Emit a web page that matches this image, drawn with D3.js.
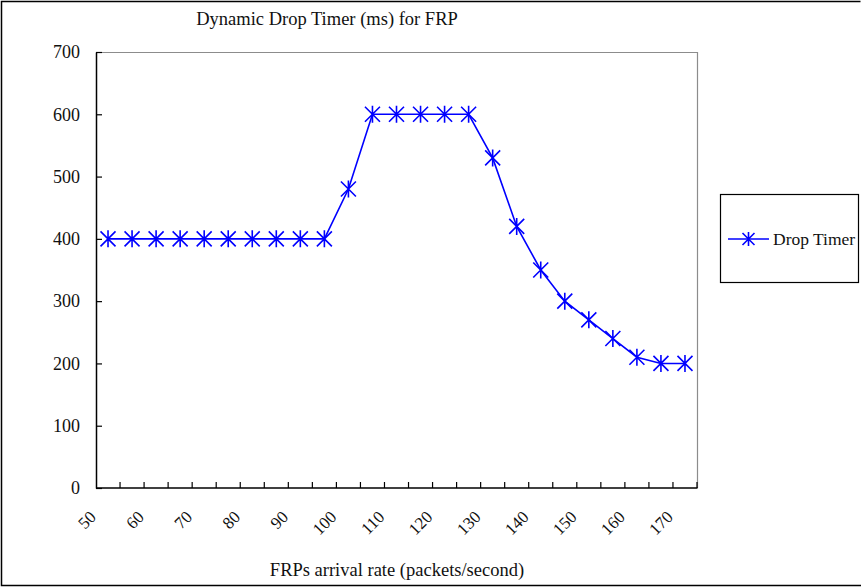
<!DOCTYPE html>
<html>
<head>
<meta charset="utf-8">
<script src="https://cdn.jsdelivr.net/npm/d3@7/dist/d3.min.js"></script>
<style>
  html, body { margin: 0; padding: 0; background: #fff; }
  svg { display: block; }
  text { font-family: "Liberation Serif", "Times New Roman", serif; fill: #111; }
</style>
</head>
<body>
<svg id="chart" width="861" height="587"></svg>
<script>
// FRP arrival rate (packets/second) on the category axis
const rates = [50, 55, 60, 65, 70, 75, 80, 85, 90, 95, 100, 105, 110, 115, 120,
               125, 130, 135, 140, 145, 150, 155, 160, 165, 170];
// Drop timer value (ms) at each rate
const dropTimer = [400, 400, 400, 400, 400, 400, 400, 400, 400, 400, 480, 600, 600, 600, 600,
                   600, 530, 420, 350, 300, 270, 240, 210, 200, 200];
// Labelled rates and value-axis ticks
const rateLabels = [50, 60, 70, 80, 90, 100, 110, 120, 130, 140, 150, 160, 170];
const timerTicks = [0, 100, 200, 300, 400, 500, 600, 700];

const titleText = "Dynamic Drop Timer (ms) for FRP";
const xTitleText = "FRPs arrival rate (packets/second)";
const seriesName = "Drop Timer";

const svg = d3.select("#chart");
const plot = { left: 96, right: 697, top: 52, bottom: 488 };
const blue = "#0000ff";

// Outer frame (left, top, bottom)
svg.append("path")
  .attr("d", "M860.5,1.5 H1.5 V585.5 H861")
  .attr("fill", "none").attr("stroke", "#000").attr("stroke-width", 1.5);

const x = d3.scaleBand().domain(rates).range([plot.left, plot.right]).padding(0);
const y = d3.scaleLinear().domain([0, 700]).range([plot.bottom, plot.top]);

// Plot area top and right edges
svg.append("path")
  .attr("d", `M${plot.left},${plot.top + 0.5} H${plot.right + 0.5} V${plot.bottom}`)
  .attr("fill", "none").attr("stroke", "#8c8c8c").attr("stroke-width", 1.2);

// Value axis with inward ticks
const yAxis = svg.append("g")
  .attr("transform", `translate(${plot.left},0)`)
  .call(d3.axisLeft(y).tickValues(timerTicks).tickSizeInner(-6).tickSizeOuter(0).tickPadding(16));
yAxis.select(".domain").attr("stroke", "#000").attr("stroke-width", 1.5);
yAxis.selectAll(".tick line").attr("stroke", "#000").attr("stroke-width", 1.2);
yAxis.selectAll(".tick text")
  .attr("font-family", "Liberation Serif").attr("font-size", 18).attr("fill", "#111");

// Category axis: baseline, ticks on the category boundaries
const xg = svg.append("g");
xg.append("line")
  .attr("x1", plot.left).attr("x2", plot.right + 0.5)
  .attr("y1", plot.bottom).attr("y2", plot.bottom)
  .attr("stroke", "#000").attr("stroke-width", 1.5);
const boundaries = rates.slice(1).map(r => x(r)).concat([x(rates[rates.length - 1]) + x.bandwidth()]);
xg.selectAll("line.tick")
  .data(boundaries).join("line").attr("class", "tick")
  .attr("x1", d => d).attr("x2", d => d)
  .attr("y1", plot.bottom).attr("y2", plot.bottom - 6)
  .attr("stroke", "#000").attr("stroke-width", 1.2);

// Rotated category labels
xg.selectAll("text.lbl")
  .data(rateLabels).join("text").attr("class", "lbl")
  .attr("transform", d => `translate(${x(d) + x.bandwidth() / 2 - 11},${plot.bottom + 30}) rotate(-45)`)
  .attr("text-anchor", "end")
  .attr("font-size", 17)
  .text(d => d);

// Series line
const cx = d => x(d) + x.bandwidth() / 2;
const pts = rates.map((r, i) => [cx(r), y(dropTimer[i])]);
svg.append("path")
  .attr("d", d3.line()(pts))
  .attr("fill", "none").attr("stroke", blue).attr("stroke-width", 1.6);

// Asterisk marker
function star(g, s) {
  g.append("path")
    .attr("d", `M0,${-s - 1}V${s + 1}M${-s},${-s}L${s},${s}M${s},${-s}L${-s},${s}`)
    .attr("fill", "none").attr("stroke", blue).attr("stroke-width", 1.6);
}
svg.selectAll("g.mk")
  .data(pts).join("g").attr("class", "mk")
  .attr("transform", d => `translate(${d[0]},${d[1]})`)
  .each(function () { star(d3.select(this), 7.5); });

// Titles
svg.append("text")
  .attr("x", 327).attr("y", 25)
  .attr("text-anchor", "middle").attr("font-size", 18.5)
  .text(titleText);
svg.append("text")
  .attr("x", 397).attr("y", 576)
  .attr("text-anchor", "middle").attr("font-size", 18.5)
  .text(xTitleText);

// Legend
const lg = svg.append("g");
lg.append("rect")
  .attr("x", 720.5).attr("y", 194.5).attr("width", 138).attr("height", 88)
  .attr("fill", "#fff").attr("stroke", "#000").attr("stroke-width", 1.2);
lg.append("line")
  .attr("x1", 728).attr("x2", 769).attr("y1", 239).attr("y2", 239)
  .attr("stroke", blue).attr("stroke-width", 1.6);
star(lg.append("g").attr("transform", "translate(748.5,239)"), 6);
lg.append("text")
  .attr("x", 773).attr("y", 245)
  .attr("font-size", 17.5)
  .text(seriesName);
</script>
</body>
</html>
